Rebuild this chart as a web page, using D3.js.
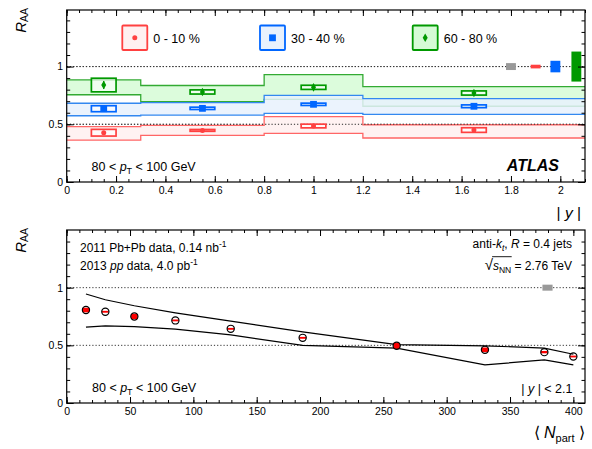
<!DOCTYPE html>
<html>
<head>
<meta charset="utf-8">
<script src="https://cdn.jsdelivr.net/npm/d3@7"></script>
<style>
    body { margin: 0; background: #fff; }
    svg { display: block; font-family: "Liberation Sans", Arial, sans-serif; }
</style>
</head>
<body>
<svg id="chart" width="592" height="449"></svg>
<script>
// ---- top panel: R_AA vs |y| ----
let yEdges = [0, 0.3, 0.8, 1.2, 2.1];
let yCenters = [0.15, 0.55, 1.0, 1.65];
let centLabels = ['0 - 10 %', '30 - 40 %', '60 - 80 %'];

let raa010 = [0.427, 0.447, 0.485, 0.450];
let stat010 = [0.012, 0.008, 0.008, 0.008];
let sys010 = [0.029, 0.008, 0.016, 0.020];
let bandLo010 = [0.363, 0.404, 0.421, 0.381];
let bandHi010 = [0.479, 0.491, 0.566, 0.496];

let raa3040 = [0.635, 0.638, 0.673, 0.656];
let stat3040 = [0.010, 0.008, 0.008, 0.008];
let sys3040 = [0.026, 0.010, 0.010, 0.012];
let bandLo3040 = [0.574, 0.580, 0.595, 0.586];
let bandHi3040 = [0.682, 0.687, 0.751, 0.722];

let raa6080 = [0.840, 0.780, 0.820, 0.771];
let stat6080 = [0.035, 0.022, 0.020, 0.020];
let sys6080 = [0.059, 0.018, 0.018, 0.018];
let bandLo6080 = [0.756, 0.695, 0.716, 0.656];
let bandHi6080 = [0.884, 0.836, 0.930, 0.826];

// normalisation uncertainties drawn at R_AA = 1 (lumi, then per centrality)
let normX = [1.80, 1.90, 1.98, 2.065];
let normErr = [0.030, 0.016, 0.050, 0.130];

// ---- bottom panel: R_AA vs <Npart> ----
let npart = [15.2, 30.5, 53.4, 85.8, 129.5, 186.3, 260.5, 330.2, 377.1, 400.0];
let raaNpart = [0.806, 0.791, 0.750, 0.716, 0.643, 0.565, 0.496, 0.461, 0.441, 0.403];
let sysNpart = [0.020, 0.008, 0.023, 0.008, 0.008, 0.008, 0.026, 0.020, 0.010, 0.008];
let bandHiNpart = [0.945, 0.895, 0.843, 0.782, 0.710, 0.616, 0.507, 0.496, 0.476, 0.423];
let bandLoNpart = [0.658, 0.668, 0.662, 0.641, 0.590, 0.500, 0.476, 0.330, 0.374, 0.330];
let normNpart = 379.6;
let normErrNpart = 0.026;

let yTicksMajor = [0, 0.5, 1];

let svg = d3.select('#chart');

let colors = {
    red: { line: '#ff4040', band: '#fff0f0', edge: '#ff6666', legend: '#fff0f0' },
    blue: { line: '#0066ff', band: '#e8f1fd', edge: '#3388f0', legend: '#e8f1fd' },
    green: { line: '#009900', band: '#d6fbd6', edge: '#33aa33', legend: '#d6fbd6' }
};

let topConfig = { left: 66.7, right: 585, top: 10, bottom: 182 };
let botConfig = { left: 66.7, right: 585, top: 230, bottom: 403 };

let xTop = d3.scaleLinear().domain([0, 2.1]).range([topConfig.left, topConfig.right]);
let yTopS = d3.scaleLinear().domain([0, 1.49]).range([topConfig.bottom, topConfig.top]);
let xBot = d3.scaleLinear().domain([0, 409.2]).range([botConfig.left, botConfig.right]);
let yBotS = d3.scaleLinear().domain([0, 1.5]).range([botConfig.bottom, botConfig.top]);

function fmt(v) {
    return String(+v.toFixed(2));
}

function drawAxes(config, x, y, xMajor, xMinor) {
    let g = svg.append('g');
    let yMinor = d3.range(0, 15).map(i => +(i * 0.1).toFixed(2));
    // bottom
    g.append('g').attr('transform', `translate(0,${config.bottom})`)
        .call(d3.axisBottom(x).tickValues(xMinor).tickSize(-3).tickFormat(''));
    g.append('g').attr('transform', `translate(0,${config.bottom})`)
        .call(d3.axisBottom(x).tickValues(xMajor).tickSize(-6).tickPadding(5).tickFormat(fmt));
    // top (mirror)
    g.append('g').attr('transform', `translate(0,${config.top})`)
        .call(d3.axisTop(x).tickValues(xMinor).tickSize(-3).tickFormat(''));
    g.append('g').attr('transform', `translate(0,${config.top})`)
        .call(d3.axisTop(x).tickValues(xMajor).tickSize(-6).tickFormat(''));
    // left
    g.append('g').attr('transform', `translate(${config.left},0)`)
        .call(d3.axisLeft(y).tickValues(yMinor).tickSize(-3.5).tickFormat(''));
    g.append('g').attr('transform', `translate(${config.left},0)`)
        .call(d3.axisLeft(y).tickValues(yTicksMajor).tickSize(-7).tickPadding(3.5).tickFormat(fmt));
    // right (mirror)
    g.append('g').attr('transform', `translate(${config.right},0)`)
        .call(d3.axisRight(y).tickValues(yMinor).tickSize(-3.5).tickFormat(''));
    g.append('g').attr('transform', `translate(${config.right},0)`)
        .call(d3.axisRight(y).tickValues(yTicksMajor).tickSize(-7).tickFormat(''));

    g.selectAll('.domain').remove();
    g.selectAll('.tick line').attr('stroke', '#000').attr('stroke-width', 1);
    g.selectAll('.tick text').attr('font-size', '10.5px').attr('fill', '#000')
        .attr('font-family', '"Liberation Sans", Arial, sans-serif');

    svg.append('rect')
        .attr('x', config.left).attr('y', config.top)
        .attr('width', config.right - config.left)
        .attr('height', config.bottom - config.top)
        .attr('fill', 'none').attr('stroke', '#000').attr('stroke-width', 1.2);
}

function dottedLines(config, y) {
    for (let v of [1, 0.5]) {
        svg.append('line')
            .attr('x1', config.left).attr('x2', config.right)
            .attr('y1', y(v)).attr('y2', y(v))
            .attr('stroke', '#333').attr('stroke-width', 1)
            .attr('stroke-dasharray', '1.2,2');
    }
}

function yTitle(config) {
    let t = svg.append('text')
        .attr('transform', `translate(25.5,${config.top - 2}) rotate(-90)`)
        .attr('text-anchor', 'end')
        .attr('font-size', '15px');
    t.append('tspan').attr('font-style', 'italic').text('R');
    t.append('tspan').attr('font-size', '10.5px').attr('dy', 2).text('AA');
}

function marker(g, kind, cx, cy, color) {
    if (kind === 'circle') {
        g.append('circle').attr('cx', cx).attr('cy', cy).attr('r', 2.5).attr('fill', color);
    } else if (kind === 'square') {
        g.append('rect').attr('x', cx - 3.4).attr('y', cy - 3.4)
            .attr('width', 6.8).attr('height', 6.8).attr('fill', color);
    } else {
        g.append('path')
            .attr('d', `M${cx},${cy - 4.3}L${cx + 2.5},${cy}L${cx},${cy + 4.3}L${cx - 2.5},${cy}Z`)
            .attr('fill', color);
    }
}

// ---------------- top panel ----------------
function drawBand(lo, hi, col) {
    let pts = yEdges.map((e, i) => ({ x: e, lo: lo[Math.min(i, lo.length - 1)], hi: hi[Math.min(i, hi.length - 1)] }));
    let area = d3.area().curve(d3.curveStepAfter)
        .x(d => xTop(d.x)).y0(d => yTopS(d.lo)).y1(d => yTopS(d.hi));
    svg.append('path').datum(pts).attr('d', area)
        .attr('fill', col.band).attr('fill-opacity', 0.85);
    for (let key of ['lo', 'hi']) {
        svg.append('path').datum(pts)
            .attr('d', d3.line().curve(d3.curveStepAfter).x(d => xTop(d.x)).y(d => yTopS(d[key])))
            .attr('fill', 'none').attr('stroke', col.edge).attr('stroke-width', 1.3);
    }
}

function drawPoints(raa, stat, sys, col, kind) {
    let g = svg.append('g');
    yCenters.forEach((c, i) => {
        g.append('rect')
            .attr('x', xTop(c - 0.05)).attr('y', yTopS(raa[i] + sys[i]))
            .attr('width', xTop(c + 0.05) - xTop(c - 0.05))
            .attr('height', Math.max(yTopS(raa[i] - sys[i]) - yTopS(raa[i] + sys[i]), 1))
            .attr('fill', '#fff').attr('fill-opacity', 0.6)
            .attr('stroke', col.line).attr('stroke-width', 1.7);
        g.append('line')
            .attr('x1', xTop(c)).attr('x2', xTop(c))
            .attr('y1', yTopS(raa[i] + stat[i])).attr('y2', yTopS(raa[i] - stat[i]))
            .attr('stroke', col.line).attr('stroke-width', 1.3);
        marker(g, kind, xTop(c), yTopS(raa[i]), col.line);
    });
}

dottedLines(topConfig, yTopS);
drawBand(bandLo6080, bandHi6080, colors.green);
drawBand(bandLo3040, bandHi3040, colors.blue);
drawBand(bandLo010, bandHi010, colors.red);
dottedLines(topConfig, yTopS);
drawPoints(raa010, stat010, sys010, colors.red, 'circle');
drawPoints(raa3040, stat3040, sys3040, colors.blue, 'square');
drawPoints(raa6080, stat6080, sys6080, colors.green, 'diamond');

let normColors = ['#999999', colors.red.line, colors.blue.line, colors.green.line];
normX.forEach((nx, i) => {
    svg.append('rect')
        .attr('x', xTop(nx - 0.02)).attr('y', yTopS(1 + normErr[i]))
        .attr('width', xTop(nx + 0.02) - xTop(nx - 0.02))
        .attr('height', yTopS(1 - normErr[i]) - yTopS(1 + normErr[i]))
        .attr('fill', normColors[i]);
});

drawAxes(topConfig, xTop,
    yTopS,
    d3.range(0, 11).map(i => +(i * 0.2).toFixed(2)),
    d3.range(0, 43).map(i => +(i * 0.05).toFixed(2)));
yTitle(topConfig);

// legend
let legendX = [122.3, 260, 412.7];
let legendKinds = ['circle', 'square', 'diamond'];
let legendCols = [colors.red, colors.blue, colors.green];
legendX.forEach((lx, i) => {
    let g = svg.append('g');
    g.append('rect').attr('x', lx).attr('y', 25.5).attr('width', 25).attr('height', 24.5)
        .attr('fill', legendCols[i].legend).attr('stroke', legendCols[i].line).attr('stroke-width', 1.8)
        .attr('rx', 1);
    marker(g, legendKinds[i], lx + 12.5, 37.8, legendCols[i].line);
    g.append('text').attr('x', lx + 31).attr('y', 42.8).attr('font-size', '12.5px').text(centLabels[i]);
});

function ptText(x, y) {
    let t = svg.append('text').attr('x', x).attr('y', y).attr('font-size', '12.5px');
    t.append('tspan').text('80 < ');
    t.append('tspan').attr('font-style', 'italic').text('p');
    t.append('tspan').attr('font-size', '9px').attr('dy', 3).text('T');
    t.append('tspan').attr('dy', -3).text(' < 100 GeV');
}
ptText(91.5, 170.5);

svg.append('text').attr('x', 559).attr('y', 170.5)
    .attr('text-anchor', 'end').attr('font-size', '16px')
    .attr('font-weight', 'bold').attr('font-style', 'italic').text('ATLAS');

let yLab = svg.append('text').attr('x', 581).attr('y', 218)
    .attr('text-anchor', 'end').attr('font-size', '15.5px');
yLab.append('tspan').text('| ');
yLab.append('tspan').attr('font-style', 'italic').text('y');
yLab.append('tspan').text(' |');

// ---------------- bottom panel ----------------
dottedLines(botConfig, yBotS);

for (let band of [bandHiNpart, bandLoNpart]) {
    svg.append('path').datum(npart.map((n, i) => [n, band[i]]))
        .attr('d', d3.line().x(d => xBot(d[0])).y(d => yBotS(d[1])))
        .attr('fill', 'none').attr('stroke', '#000').attr('stroke-width', 1.2);
}

svg.append('rect')
    .attr('x', xBot(normNpart - 4)).attr('y', yBotS(1 + normErrNpart))
    .attr('width', xBot(normNpart + 4) - xBot(normNpart - 4))
    .attr('height', yBotS(1 - normErrNpart) - yBotS(1 + normErrNpart))
    .attr('fill', '#999999');

let pg = svg.append('g');
npart.forEach((n, i) => {
    pg.append('rect')
        .attr('x', xBot(n - 2.6)).attr('y', yBotS(raaNpart[i] + sysNpart[i]))
        .attr('width', xBot(n + 2.6) - xBot(n - 2.6))
        .attr('height', yBotS(raaNpart[i] - sysNpart[i]) - yBotS(raaNpart[i] + sysNpart[i]))
        .attr('fill', '#ff0000');
    pg.append('circle').attr('cx', xBot(n)).attr('cy', yBotS(raaNpart[i])).attr('r', 3.6)
        .attr('fill', 'none').attr('stroke', '#000').attr('stroke-width', 1.2);
});

drawAxes(botConfig, xBot, yBotS,
    d3.range(0, 9).map(i => i * 50),
    d3.range(0, 41).map(i => i * 10));
yTitle(botConfig);

let l1 = svg.append('text').attr('x', 80).attr('y', 251.5).attr('font-size', '12px');
l1.append('tspan').text('2011 Pb+Pb data, 0.14 nb');
l1.append('tspan').attr('font-size', '8.5px').attr('dy', -5).text('-1');
let l2 = svg.append('text').attr('x', 80).attr('y', 270).attr('font-size', '12px');
l2.append('tspan').text('2013 ');
l2.append('tspan').attr('font-style', 'italic').text('pp');
l2.append('tspan').text(' data, 4.0 pb');
l2.append('tspan').attr('font-size', '8.5px').attr('dy', -5).text('-1');

let r1 = svg.append('text').attr('x', 572).attr('y', 247.5)
    .attr('text-anchor', 'end').attr('font-size', '12px');
r1.append('tspan').text('anti-');
r1.append('tspan').attr('font-style', 'italic').text('k');
r1.append('tspan').attr('font-style', 'italic').attr('font-size', '8.5px').attr('dy', 3).text('t');
r1.append('tspan').attr('dy', -3).text(', ');
r1.append('tspan').attr('font-style', 'italic').text('R');
r1.append('tspan').text(' = 0.4 jets');

let r2 = svg.append('text').attr('x', 572).attr('y', 269.5)
    .attr('text-anchor', 'end').attr('font-size', '12px');
r2.append('tspan').attr('font-size', '15px').text('\u221A');
r2.append('tspan').attr('font-style', 'italic').text('s');
r2.append('tspan').attr('font-size', '8.5px').attr('dy', 3).text('NN');
r2.append('tspan').attr('dy', -3).text(' = 2.76 TeV');
// overline of the square root
let c0 = r2.node().getExtentOfChar(0);
let c3 = r2.node().getExtentOfChar(3);
svg.append('line')
    .attr('x1', c0.x + c0.width - 0.8).attr('x2', c3.x + c3.width + 0.5)
    .attr('y1', c0.y + 1.2).attr('y2', c0.y + 1.2)
    .attr('stroke', '#000').attr('stroke-width', 0.9);

ptText(92, 392);

let r3 = svg.append('text').attr('x', 572.5).attr('y', 392.5)
    .attr('text-anchor', 'end').attr('font-size', '12.5px');
r3.append('tspan').text('| ');
r3.append('tspan').attr('font-style', 'italic').text('y');
r3.append('tspan').text(' | < 2.1');

let nLab = svg.append('text').attr('x', 585).attr('y', 438)
    .attr('text-anchor', 'end').attr('font-size', '16px');
nLab.append('tspan').text('\u27E8 ');
nLab.append('tspan').attr('font-style', 'italic').text('N');
nLab.append('tspan').attr('font-size', '11px').attr('dy', 4).text('part');
nLab.append('tspan').attr('dy', -4).text(' \u27E9');
</script>
</body>
</html>
